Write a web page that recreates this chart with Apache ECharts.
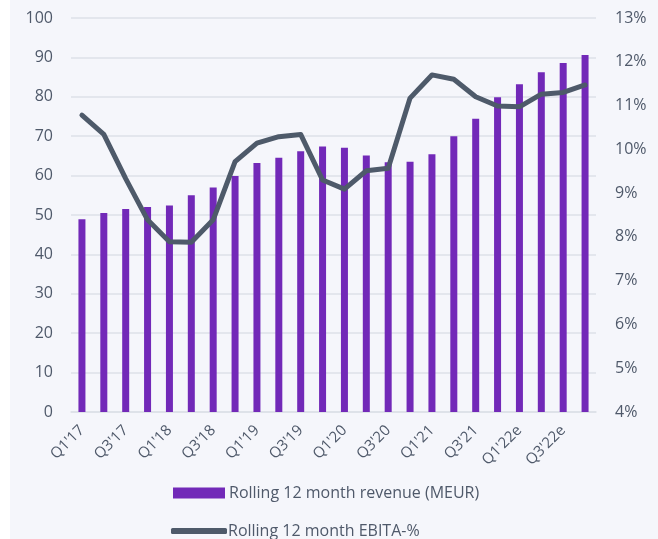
<!DOCTYPE html>
<html>
<head>
<meta charset="utf-8">
<script src="https://cdn.jsdelivr.net/npm/echarts@6/dist/echarts.min.js"></script>
<style>
  html, body { margin: 0; padding: 0; background: #ffffff; }
  #chart { position: absolute; left: 10px; top: 0; width: 648px; height: 539px; }
</style>
</head>
<body>
<div id="chart"></div>
<script>
// quarters, 2017 - 2022e
var quarters = ["Q1'17", "Q2'17", "Q3'17", "Q4'17", "Q1'18", "Q2'18", "Q3'18", "Q4'18",
  "Q1'19", "Q2'19", "Q3'19", "Q4'19", "Q1'20", "Q2'20", "Q3'20", "Q4'20",
  "Q1'21", "Q2'21", "Q3'21", "Q4'21", "Q1'22e", "Q2'22e", "Q3'22e", "Q4'22e"]
// rolling 12 month revenue, MEUR
var revenue = [48.9, 50.5, 51.5, 52.0, 52.4, 55.0, 57.0, 59.9,
  63.2, 64.5, 66.2, 67.4, 67.1, 65.1, 63.4, 63.5,
  65.4, 70.0, 74.4, 79.9, 83.2, 86.2, 88.6, 90.6]
// rolling 12 month EBITA-%
var ebitaPct = [10.78, 10.34, 9.33, 8.39, 7.89, 7.88, 8.39, 9.72,
  10.14, 10.29, 10.34, 9.30, 9.09, 9.51, 9.57, 11.17,
  11.70, 11.60, 11.20, 10.99, 10.97, 11.26, 11.30, 11.47]

var revName = 'Rolling 12 month revenue (MEUR)'
var ebitaName = 'Rolling 12 month EBITA-%'
var textColor = '#4f596a'
var fontFamily = '"Open Sans", sans-serif'

var chart = echarts.init(document.getElementById('chart'))
var option = {
  backgroundColor: '#f5f6fb',
  textStyle: { fontFamily: fontFamily },
  grid: { left: 61, right: 62, top: 18, bottom: 127, outerBoundsMode: 'none', containLabel: false },
  legend: [
    {
      data: [revName],
      left: 158, top: 480,
      itemWidth: 52, itemHeight: 11,
      icon: 'rect',
      textStyle: { color: textColor, fontSize: 16, fontFamily: fontFamily, padding: [0, 0, 0, -1] }
    },
    {
      data: [{ name: ebitaName, icon: 'roundRect' }],
      left: 156, top: 518,
      itemWidth: 56, itemHeight: 6,
      itemStyle: { color: '#4e5a6a' },
      textStyle: { color: textColor, fontSize: 16, fontFamily: fontFamily, padding: [0, 0, 0, -4] }
    }
  ],
  xAxis: {
    type: 'category',
    data: quarters,
    axisTick: { show: false },
    axisLine: { show: true, lineStyle: { color: '#dde1e8', width: 1.5 } },
    axisLabel: {
      interval: 1,
      rotate: 45,
      margin: 16,
      color: textColor,
      fontSize: 15,
      fontFamily: fontFamily
    }
  },
  yAxis: [
    {
      type: 'value',
      min: 0, max: 100, interval: 10,
      axisLine: { show: false },
      axisTick: { show: false },
      axisLabel: { color: textColor, fontSize: 16, margin: 18, fontFamily: fontFamily },
      splitLine: { lineStyle: { color: '#dde1e8', width: 1.5 } }
    },
    {
      type: 'value',
      min: 4, max: 13, interval: 1,
      position: 'right',
      axisLine: { show: false },
      axisTick: { show: false },
      splitLine: { show: false },
      axisLabel: { color: textColor, fontSize: 16, margin: 19, fontFamily: fontFamily, formatter: '{value}%' }
    }
  ],
  series: [
    {
      name: revName,
      type: 'bar',
      data: revenue,
      barWidth: 7,
      itemStyle: { color: '#7229b8' }
    },
    {
      name: ebitaName,
      type: 'line',
      yAxisIndex: 1,
      data: ebitaPct,
      symbol: 'none',
      lineStyle: { color: '#4e5a6a', width: 5, cap: 'round', join: 'round' },
      itemStyle: { color: '#4e5a6a' }
    }
  ]
}
chart.setOption(option)
window.addEventListener('resize', () => {
  chart.resize()
})
</script>
</body>
</html>
